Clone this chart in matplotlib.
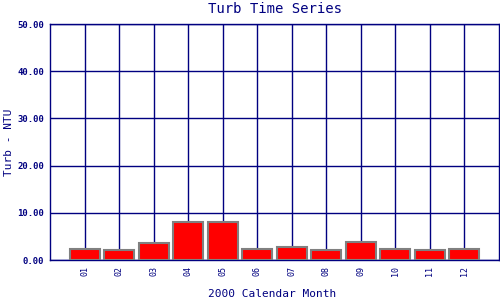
import matplotlib
matplotlib.use("Agg")
import matplotlib.pyplot as plt

months = ["01", "02", "03", "04", "05", "06", "07", "08", "09", "10", "11", "12"]
turb = [2.27, 2.05, 3.53, 7.98, 7.98, 2.27, 2.69, 2.05, 3.74, 2.27, 2.05, 2.27]
yticks = [0, 10, 20, 30, 40, 50]

NAVY = "#000080"
plt.rcParams["font.family"] = ["DejaVu Sans Mono"]

fig = plt.figure(figsize=(5, 3), dpi=100)
ax = fig.add_axes([0.1, 0.1333, 0.898, 0.7867])

xs = list(range(1, len(months) + 1))
ax.set_axisbelow(True)
ax.grid(True, color=NAVY, lw=1.0)
ax.bar(xs, turb, width=0.87, color="#ff0000", edgecolor="#808080", linewidth=1.5, zorder=3)

ax.set_xlim(0, 13)
ax.set_ylim(0, 50)
ax.set_xticks(xs)
ax.set_xticklabels(months, rotation=90, fontsize=6, color=NAVY)
ax.set_yticks(yticks)
ax.set_yticklabels([f"{v:.2f}" for v in yticks], fontsize=6.5, color=NAVY, fontweight="bold")
ax.tick_params(length=0, pad=4)
for s in ax.spines.values():
    s.set_color(NAVY)
    s.set_linewidth(1.0)

ax.set_title("Turb Time Series", fontsize=10, color=NAVY, pad=8)
fig.text(0.545, 0.02, "2000 Calendar Month", fontsize=8, color=NAVY, ha="center", va="center")
fig.text(0.018, 0.527, "Turb - NTU", fontsize=8, color=NAVY, ha="center", va="center", rotation=90)

fig.savefig("out.png", dpi=100)
